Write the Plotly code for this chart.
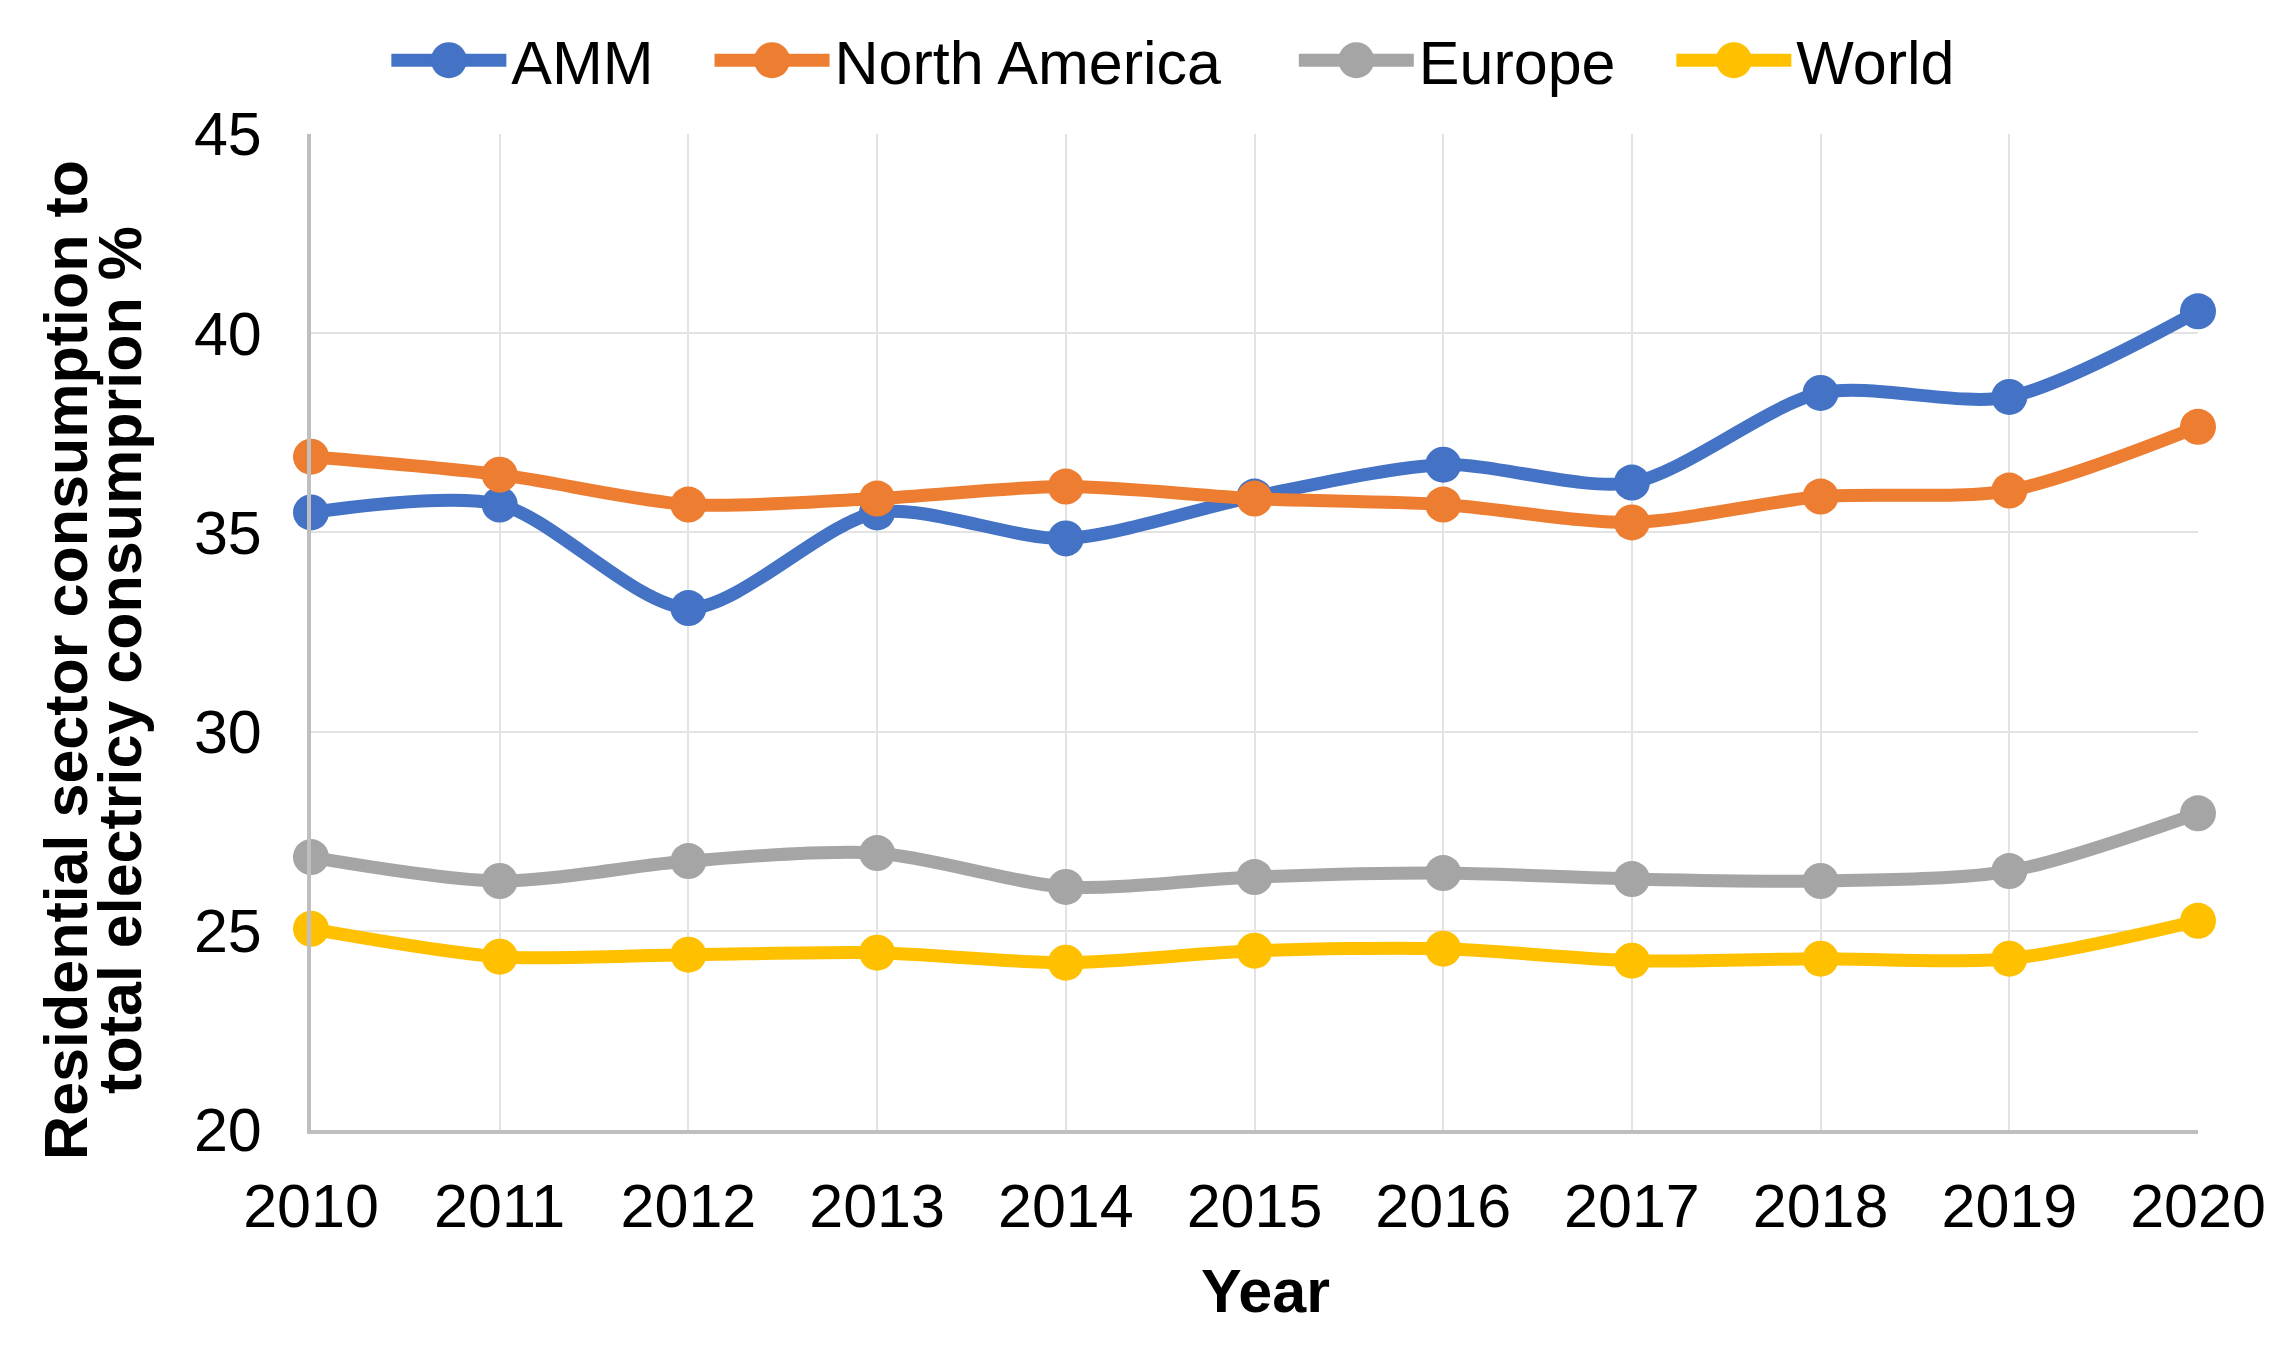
import plotly.graph_objects as go

years = [2010, 2011, 2012, 2013, 2014, 2015, 2016, 2017, 2018, 2019, 2020]
amm = [35.5, 35.7, 33.1, 35.5, 34.85, 35.9, 36.7, 36.25, 38.5, 38.4, 40.55]
north_america = [36.9, 36.45, 35.7, 35.85, 36.15, 35.85, 35.7, 35.25, 35.9, 36.05, 37.65]
europe = [26.85, 26.25, 26.75, 26.95, 26.1, 26.35, 26.45, 26.3, 26.25, 26.5, 27.95]
world = [25.05, 24.35, 24.4, 24.45, 24.2, 24.5, 24.55, 24.25, 24.3, 24.3, 25.25]

series_names = ["AMM", "North America", "Europe", "World"]
series_values = [amm, north_america, europe, world]
series_colors = ["#4472C4", "#ED7D31", "#A5A5A5", "#FFC000"]

y_ticks = [20, 25, 30, 35, 40, 45]
y_title_lines = ["Residential sector consumption to", "total electricy consumprion %"]
x_title = "Year"
font_family = "Liberation Sans, Arial, sans-serif"
FS = 61
NBSP = "\u00a0"
legend_pad = [3, 4, 3, 0]

fig = go.Figure()
for name, vals, color, pad in zip(series_names, series_values, series_colors, legend_pad):
    fig.add_trace(go.Scatter(
        x=years, y=vals, name=name + NBSP * pad, mode="lines+markers",
        line=dict(color=color, width=13, shape="spline", smoothing=0.8),
        marker=dict(color=color, size=36),
        cliponaxis=False,
    ))

fig.update_layout(
    width=2287, height=1345,
    margin=dict(l=311, r=89, t=134, b=215, autoexpand=False),
    paper_bgcolor="white", plot_bgcolor="white",
    font=dict(family=font_family, size=FS, color="black"),
    showlegend=True,
    legend=dict(
        orientation="h", x=0.457, xanchor="center",
        y=0.955, yref="container", yanchor="middle",
        font=dict(size=FS, color="black"),
        itemwidth=115,
        traceorder="normal",
        bgcolor="rgba(0,0,0,0)",
    ),
    xaxis=dict(
        range=[2010, 2020], tickmode="array", tickvals=years,
        ticktext=[str(y) for y in years],
        showgrid=True, gridcolor="#E3E3E3", gridwidth=2,
        showline=True, linecolor="#BFBFBF", linewidth=4,
        ticks="", ticklabelstandoff=20,
        tickfont=dict(size=FS),
        zeroline=False,
    ),
    yaxis=dict(
        range=[20, 45], tickmode="array", tickvals=y_ticks,
        showgrid=True, gridcolor="#E3E3E3", gridwidth=2,
        showline=True, linecolor="#BFBFBF", linewidth=4,
        ticks="", ticklabelstandoff=33,
        tickfont=dict(size=FS),
        zeroline=False,
    ),
    annotations=[
        dict(text="<b>" + y_title_lines[0] + "</b>",
             xref="paper", yref="paper", x=0, y=0.472, xanchor="center", yanchor="middle",
             xshift=-245, textangle=-90, showarrow=False,
             font=dict(size=FS, color="black")),
        dict(text="<b>" + y_title_lines[1] + "</b>",
             xref="paper", yref="paper", x=0, y=0.472, xanchor="center", yanchor="middle",
             xshift=-191, textangle=-90, showarrow=False,
             font=dict(size=FS, color="black")),
        dict(text="<b>" + x_title + "</b>", xref="paper", yref="paper", x=0.5, y=0,
             xanchor="center", yanchor="middle", yshift=-161, xshift=11,
             showarrow=False, font=dict(size=FS, color="black")),
    ],
)

post = """
document.body.style.margin='0';
var r = 18;
document.querySelectorAll('.legend .legendpoints path.scatterpts').forEach(function(p){
  p.setAttribute('d', 'M'+r+',0A'+r+','+r+' 0 1,1 0,-'+r+'A'+r+','+r+' 0 0,1 '+r+',0Z');
});
document.querySelectorAll('.legend .legendlines path').forEach(function(p){
  p.style.strokeWidth = '13px';
});
"""

fig.write_html("out.html", config={"displayModeBar": False}, post_script=post)
